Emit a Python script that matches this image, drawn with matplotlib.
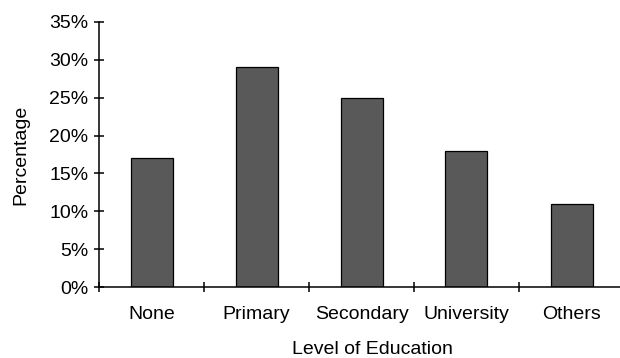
import matplotlib
matplotlib.use("Agg")
import matplotlib.pyplot as plt
from matplotlib.ticker import FuncFormatter, MultipleLocator
import numpy as np

categories = ["None", "Primary", "Secondary", "University", "Others"]
values = [17, 29, 25, 18, 11]

plt.rcParams['font.family'] = ['Liberation Sans', 'DejaVu Sans']

fig = plt.figure(figsize=(6.2, 3.58), dpi=100)
W, H = 620, 358
ax = fig.add_axes([99 / W, (H - 287) / H, (624 - 99) / W, (287 - 22) / H])

x = np.arange(len(categories))
ax.bar(x, values, width=0.4, color="#595959", edgecolor="black", linewidth=0.9)

ax.set_xlim(-0.5, len(categories) - 0.5)
ax.set_ylim(0, 35)
ax.yaxis.set_major_locator(MultipleLocator(5))
ax.yaxis.set_major_formatter(FuncFormatter(lambda v, p: f"{v:.0f}%"))

ax.set_xticks(x)
ax.set_xticklabels(categories)
ax.set_xticks(np.arange(-0.5, len(categories)), minor=True)
ax.tick_params(axis="x", which="major", length=0, pad=14, labelsize=14)
ax.tick_params(axis="x", which="minor", direction="inout", length=7, width=1.1)
ax.tick_params(axis="y", direction="inout", length=7, width=1.1, pad=4, labelsize=14)

for s in ["top", "right"]:
    ax.spines[s].set_visible(False)
for s in ["left", "bottom"]:
    ax.spines[s].set_linewidth(1.1)

ax.set_xlabel("Level of Education", fontsize=14)
ax.set_ylabel("Percentage", fontsize=14)
ax.xaxis.set_label_coords((372 - 99) / (624 - 99), -(341 - 287) / 265)
ax.yaxis.set_label_coords(-(99 - 29) / 525, 0.5)

fig.savefig("out.png", dpi=100)
